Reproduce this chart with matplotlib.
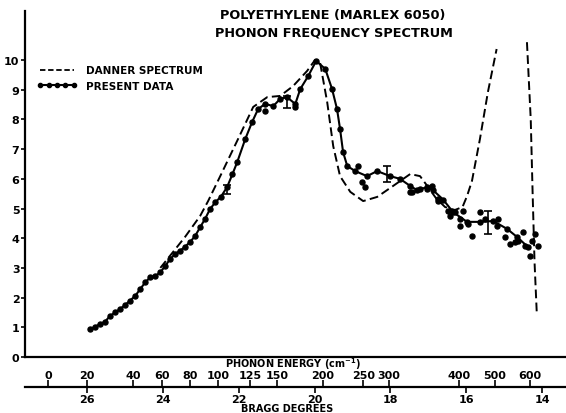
import matplotlib
matplotlib.use("Agg")
import numpy as np
import matplotlib.pyplot as plt
from matplotlib.lines import Line2D

# ----------------------------------------------------------------------
# values (x = Bragg degrees, y = spectrum)
data_bragg = [25.92, 25.79, 25.66, 25.53, 25.39, 25.26, 25.13, 25.00, 24.87, 24.73,
              24.60, 24.47, 24.34, 24.21, 24.07, 23.94, 23.81, 23.68, 23.55, 23.42,
              23.28, 23.15, 23.02, 22.89, 22.76, 22.62, 22.47, 22.31, 22.17, 22.04,
              21.83, 21.65, 21.49, 21.31, 21.09,
              20.91, 20.73, 20.51, 20.38, 20.17, 19.96, 19.72, 19.54, 19.41, 19.33,
              19.25, 19.14, 18.93, 18.62, 18.35, 18.01, 17.75, 17.48, 17.30, 17.03,
              16.88, 16.61, 16.35, 15.98, 15.64, 15.29, 14.92, 14.66, 14.37]
data_value = [0.94, 1.02, 1.11, 1.19, 1.39, 1.50, 1.62, 1.75, 1.90, 2.06,
              2.29, 2.51, 2.68, 2.72, 2.85, 3.07, 3.30, 3.47, 3.58, 3.71,
              3.88, 4.08, 4.37, 4.65, 4.98, 5.21, 5.40, 5.72, 6.15, 6.57,
              7.34, 7.91, 8.35, 8.52, 8.45,
              8.69, 8.75, 8.52, 9.02, 9.46, 9.97, 9.70, 9.02, 8.35, 7.68,
              6.90, 6.43, 6.26, 6.09, 6.26, 6.09, 6.00, 5.76, 5.62, 5.72,
              5.62, 5.30, 4.88, 4.55, 4.55, 4.58, 4.31, 4.04, 3.70]

# loose points lying off the smooth curve
scatter_bragg = [21.31, 20.51, 18.85, 18.75, 18.67, 17.48, 17.43, 17.22, 17.03, 16.90,
                 16.74, 16.74, 16.48, 16.43, 16.30, 16.16, 16.16, 16.08, 15.95, 15.85,
                 15.64, 15.50, 15.19, 15.16, 14.98, 14.85, 14.71, 14.63, 14.50, 14.45,
                 14.32, 14.26, 14.19, 14.11]
scatter_value = [8.28, 8.42, 6.43, 5.89, 5.72, 5.56, 5.56, 5.66, 5.66, 5.76,
                 5.32, 5.25, 4.92, 4.75, 4.88, 4.65, 4.41, 4.92, 4.48, 4.07,
                 4.88, 4.65, 4.41, 4.65, 4.04, 3.80, 3.87, 3.91, 4.21, 3.74,
                 3.40, 3.91, 4.14, 3.74]

errbar_bragg = [22.31, 20.73, 18.09, 15.43]
errbar_value = [5.65, 8.60, 6.16, 4.52]
errbar_size = [0.15, 0.20, 0.27, 0.39]

# Danner spectrum (dashed); NaN marks the part that runs off the top
danner_bragg = [24.07, 23.42, 23.02, 22.81, 22.49, 22.02, 21.62, 21.25, 20.91, 20.57,
                20.20, 19.99, 19.86, 19.67, 19.51, 19.33, 19.06, 18.72, 18.35, 17.93,
                17.48, 17.22, 17.03, 16.80, 16.56, 16.30, 16.10, 15.98, 15.85, 15.64,
                15.43, 15.20, 15.00,
                14.40, 14.30, 14.25, 14.20, 14.14]
danner_value = [3.00, 4.04, 4.75, 5.25, 6.09, 7.34, 8.42, 8.75, 8.79, 9.12,
                9.63, 10.00, 9.93, 8.59, 7.10, 6.09, 5.56, 5.25, 5.39, 5.76,
                6.16, 6.09, 5.76, 5.35, 5.05, 4.95, 5.05, 5.42, 5.93, 7.34,
                8.92, 10.37, np.nan,
                10.60, 8.00, 5.50, 3.20, 1.45]

y_ticks = [0, 1, 2, 3, 4, 5, 6, 7, 8, 9, 10]
bragg_ticks = [26, 24, 22, 20, 18, 16, 14]
energy_labels = ["0", "20", "40", "60", "80", "100", "125", "150",
                 "200", "250", "300", "400", "500", "600"]
energy_tick_bragg = [27.03, 26.00, 24.79, 24.02, 23.28, 22.55, 21.70, 20.99,
                     19.78, 18.72, 18.04, 16.19, 15.24, 14.32]
# ----------------------------------------------------------------------

plt.rcParams["font.family"] = "DejaVu Sans"
plt.rcParams["font.weight"] = "bold"

W, H = 566, 414
fig = plt.figure(figsize=(W / 100, H / 100), dpi=100)

ax = fig.add_axes([25 / W, (H - 358) / H, 541 / W, 346 / H])
ax.set_xlim(27.64, 13.37)
ax.set_ylim(0, 11.65)

ax.plot(danner_bragg, danner_value, color="black", lw=1.4, dashes=(4.5, 2.2),
        label="DANNER SPECTRUM")
ax.plot(data_bragg, data_value, color="black", lw=1.5, marker="o", ms=3.6,
        label="PRESENT DATA")
ax.plot(scatter_bragg, scatter_value, "o", color="black", ms=3.6)
ax.errorbar(errbar_bragg, errbar_value, yerr=errbar_size, fmt="none",
            ecolor="black", elinewidth=1.2, capsize=3, capthick=1.2)

for side in ["top", "right"]:
    ax.spines[side].set_visible(False)
ax.spines["left"].set_linewidth(1.6)
ax.spines["bottom"].set_linewidth(1.6)
ax.set_xticks([])
ax.set_yticks(y_ticks)
ax.tick_params(axis="y", direction="out", length=3, width=1.2, labelsize=8, pad=1)

handles = [Line2D([], [], color="black", lw=1.3, dashes=(3, 1.5)),
           Line2D([], [], color="black", lw=1.5, marker="o", ms=3)]
ax.legend(handles, ["DANNER SPECTRUM", "PRESENT DATA"], loc="upper left",
          bbox_to_anchor=(0.005, 0.87), frameon=False, fontsize=7.5,
          handlelength=3.8, handletextpad=0.85, labelspacing=0.55, numpoints=5)

fig.text(333 / W, 1 - 15 / H, "POLYETHYLENE (MARLEX 6050)", ha="center", va="center",
         fontsize=9.3, fontweight="bold")
fig.text(334 / W, 1 - 33 / H, "PHONON FREQUENCY SPECTRUM", ha="center", va="center",
         fontsize=9.3, fontweight="bold")

# combined scale line: energy ticks above, Bragg angle ticks below
sc = fig.add_axes([25 / W, (H - 388) / H, 541 / W, 0.5 / H])
sc.set_xlim(ax.get_xlim())
sc.set_yticks([])
for side in ["top", "left", "right"]:
    sc.spines[side].set_visible(False)
sc.spines["bottom"].set_linewidth(1.6)
sc.set_xticks(bragg_ticks)
sc.set_xticklabels([str(t) for t in bragg_ticks])
sc.tick_params(axis="x", direction="out", length=4, width=1.2, labelsize=8, pad=1)

top = sc.secondary_xaxis("top")
top.spines["top"].set_visible(False)
top.set_xticks(energy_tick_bragg)
top.set_xticklabels(energy_labels)
top.tick_params(axis="x", direction="out", length=4, width=1.2, labelsize=8, pad=1)

fig.text(293 / W, 1 - 364 / H, "PHONON ENERGY (cm$^{-1}$)", ha="center", va="center",
         fontsize=7, fontweight="bold")
fig.text(287 / W, 1 - 409 / H, "BRAGG DEGREES", ha="center", va="center",
         fontsize=7, fontweight="bold")

fig.savefig("out.png", dpi=100)
